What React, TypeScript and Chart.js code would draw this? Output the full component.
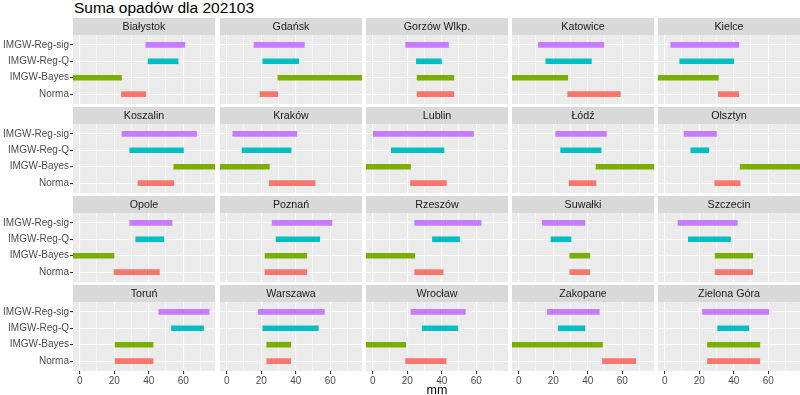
import React, { useEffect, useRef } from 'react';
import { Chart, registerables } from 'chart.js';

Chart.register(...registerables);

// ---------- data ----------
const TITLE = 'Suma opadów dla 202103';
const X_TITLE = 'mm';
const CITIES = [
  'Białystok', 'Gdańsk', 'Gorzów Wlkp.', 'Katowice', 'Kielce',
  'Koszalin', 'Kraków', 'Lublin', 'Łódź', 'Olsztyn',
  'Opole', 'Poznań', 'Rzeszów', 'Suwałki', 'Szczecin',
  'Toruń', 'Warszawa', 'Wrocław', 'Zakopane', 'Zielona Góra',
];
const METHODS = ['IMGW-Reg-sig', 'IMGW-Reg-Q', 'IMGW-Bayes', 'Norma'];
const METHOD_COLORS = ['#C77CFF', '#00BFC4', '#7CAE00', '#F8766D'];
const X_TICKS = [0, 20, 40, 60];

const REG_SIG_LOW = [38.3, 15.8, 19.1, 11.4, 3.5, 24.5, 3.5, 0.0, 21.4, 11.2, 29.0, 26.3, 24.3, 13.7, 7.7, 45.8, 18.3, 22.2, 16.6, 21.9];
const REG_SIG_HIGH = [60.9, 45.0, 43.9, 49.3, 42.9, 67.7, 40.6, 58.4, 50.8, 30.0, 53.5, 61.0, 62.8, 38.4, 42.1, 75.0, 56.6, 53.7, 46.7, 60.3];
const REG_Q_LOW = [39.6, 20.9, 25.3, 15.7, 8.7, 29.0, 8.9, 10.8, 24.3, 15.1, 32.5, 28.6, 34.6, 18.7, 13.7, 53.2, 20.9, 28.8, 23.0, 30.7];
const REG_Q_HIGH = [57.0, 41.7, 39.8, 42.1, 40.0, 60.1, 37.3, 41.3, 47.7, 25.5, 48.7, 53.9, 50.3, 30.3, 38.1, 71.7, 53.1, 49.1, 38.3, 48.7];
const BAYES_LOW = [-8.0, 29.6, 25.7, -8.0, -8.0, 54.5, -8.0, -8.0, 44.8, 43.7, -8.0, 22.2, -8.0, 29.6, 29.2, 20.5, 23.2, -8.0, -8.0, 24.8];
const BAYES_HIGH = [24.2, 85.0, 47.0, 28.4, 31.1, 85.0, 24.7, 21.9, 85.0, 85.0, 19.9, 46.4, 24.3, 41.2, 51.0, 42.5, 37.1, 19.1, 48.5, 55.1];
const NORMA_LOW = [24.2, 19.3, 25.7, 28.4, 31.1, 33.8, 24.7, 21.9, 29.2, 29.0, 19.9, 22.2, 24.3, 29.6, 29.2, 20.5, 23.2, 19.1, 48.5, 24.8];
const NORMA_HIGH = [38.3, 29.6, 47.0, 58.9, 42.9, 54.5, 51.2, 42.7, 44.8, 43.7, 46.2, 46.4, 40.8, 41.2, 51.0, 42.5, 37.1, 42.5, 67.8, 55.1];

const LOWS = [REG_SIG_LOW, REG_Q_LOW, BAYES_LOW, NORMA_LOW];
const HIGHS = [REG_SIG_HIGH, REG_Q_HIGH, BAYES_HIGH, NORMA_HIGH];

// ---------- layout ----------
const FONT = '"Liberation Sans", Arial, Helvetica, sans-serif';
const X_MIN = -3.9;
const X_MAX = 78.4;
const COL_LEFT = [73, 220, 366, 512, 658];
const ROW_TOP = [18, 107, 196, 285];
const PANEL_W = 142;
const STRIP_H = 17;
const PANEL_H = 69;
const X_AXIS_H = 24;

const panelDeco = {
  id: 'panelDeco',
  beforeDraw(chart: any, _args: any, opts: any) {
    const { ctx, chartArea: a } = chart;
    ctx.save();
    ctx.fillStyle = '#EBEBEB';
    ctx.fillRect(a.left, a.top, a.right - a.left, a.bottom - a.top);
    ctx.fillStyle = '#D9D9D9';
    ctx.fillRect(a.left, a.top - STRIP_H, a.right - a.left, STRIP_H);
    ctx.fillStyle = '#1A1A1A';
    ctx.font = `10.7px ${FONT}`;
    ctx.textAlign = 'center';
    ctx.textBaseline = 'middle';
    ctx.fillText(opts.title, (a.left + a.right) / 2, a.top - STRIP_H / 2 + 0.5);
    ctx.restore();
  },
};

function zeroPadding(s: any) {
  s.paddingTop = 0;
  s.paddingBottom = 0;
  s.paddingLeft = 0;
  s.paddingRight = 0;
}

function Panel({ index }: { index: number }) {
  const ref = useRef<HTMLCanvasElement>(null);
  const r = Math.floor(index / 5);
  const c = index % 5;
  const isLeft = c === 0;
  const isBottom = r === 3;
  const left = isLeft ? 0 : COL_LEFT[c];
  const width = isLeft ? COL_LEFT[0] + PANEL_W : PANEL_W;
  const height = STRIP_H + PANEL_H + (isBottom ? X_AXIS_H : 0);

  useEffect(() => {
    if (!ref.current) return;
    const isMajor = (ctx: any) => ctx.tick && X_TICKS.includes(ctx.tick.value);
    const chart = new Chart(ref.current, {
      type: 'bar',
      data: {
        datasets: [
          {
            data: METHODS.map((_m, i) => ({ y: i + 1, x: [LOWS[i][index], HIGHS[i][index]] })) as any,
            backgroundColor: METHOD_COLORS,
            barThickness: 5,
            borderWidth: 0,
            clip: 0 as any,
          },
        ],
      },
      options: {
        indexAxis: 'y',
        animation: false,
        responsive: false,
        devicePixelRatio: 1,
        events: [],
        layout: { padding: { top: STRIP_H, left: 0, right: 0, bottom: 0 } },
        plugins: {
          legend: { display: false },
          tooltip: { enabled: false },
          title: { display: false },
          panelDeco: { title: CITIES[index] },
        } as any,
        scales: {
          x: {
            type: 'linear',
            position: 'bottom',
            min: X_MIN,
            max: X_MAX,
            offset: false,
            border: { display: false },
            grid: {
              offset: false,
              color: '#FFFFFF',
              lineWidth: (ctx: any) => (isMajor(ctx) ? 1.1 : 0.55),
              drawTicks: isBottom,
              tickLength: 3,
              tickWidth: 1.1,
              tickColor: (ctx: any) => (isMajor(ctx) ? '#333333' : 'rgba(0,0,0,0)'),
            },
            ticks: {
              display: isBottom,
              stepSize: 10,
              includeBounds: false,
              autoSkip: false,
              maxRotation: 0,
              padding: 1,
              color: '#4D4D4D',
              font: { family: FONT, size: 10 },
              callback: (v: any) => (X_TICKS.includes(Number(v)) ? String(v) : ''),
            },
            afterFit: (s: any) => {
              s.height = isBottom ? X_AXIS_H : 0;
              zeroPadding(s);
            },
          } as any,
          y: {
            type: 'linear',
            min: 0.4,
            max: 4.6,
            reverse: true,
            offset: false,
            border: { display: false },
            grid: {
              offset: false,
              color: '#FFFFFF',
              lineWidth: 1.1,
              drawTicks: isLeft,
              tickLength: 3,
              tickWidth: 1.1,
              tickColor: '#333333',
            },
            ticks: {
              display: isLeft,
              stepSize: 1,
              includeBounds: false,
              autoSkip: false,
              padding: 1,
              color: '#4D4D4D',
              font: { family: FONT, size: 10 },
              callback: (v: any) => METHODS[Number(v) - 1] ?? '',
            },
            afterFit: (s: any) => {
              s.width = isLeft ? COL_LEFT[0] : 0;
              zeroPadding(s);
            },
          } as any,
        },
      },
      plugins: [panelDeco],
    });
    return () => chart.destroy();
  }, [index]);

  return (
    <canvas
      ref={ref}
      width={width}
      height={height}
      style={{ position: 'absolute', left, top: ROW_TOP[r], width, height, display: 'block' }}
    />
  );
}

export default function App() {
  return (
    <div
      style={{
        position: 'absolute',
        left: 0,
        top: 0,
        width: 800,
        height: 395,
        background: '#FFFFFF',
        overflow: 'hidden',
        fontFamily: FONT,
      }}
    >
      <div
        style={{
          position: 'absolute',
          left: 74,
          top: -0.5,
          fontSize: 15.5,
          lineHeight: '15.5px',
          color: '#000000',
          whiteSpace: 'nowrap',
        }}
      >
        {TITLE}
      </div>
      {CITIES.map((_c, i) => (
        <Panel key={i} index={i} />
      ))}
      <div
        style={{
          position: 'absolute',
          left: COL_LEFT[2] + PANEL_W / 2 - 30,
          width: 60,
          textAlign: 'center',
          top: 383.5,
          fontSize: 12.5,
          lineHeight: '12.5px',
          color: '#000000',
        }}
      >
        {X_TITLE}
      </div>
    </div>
  );
}
